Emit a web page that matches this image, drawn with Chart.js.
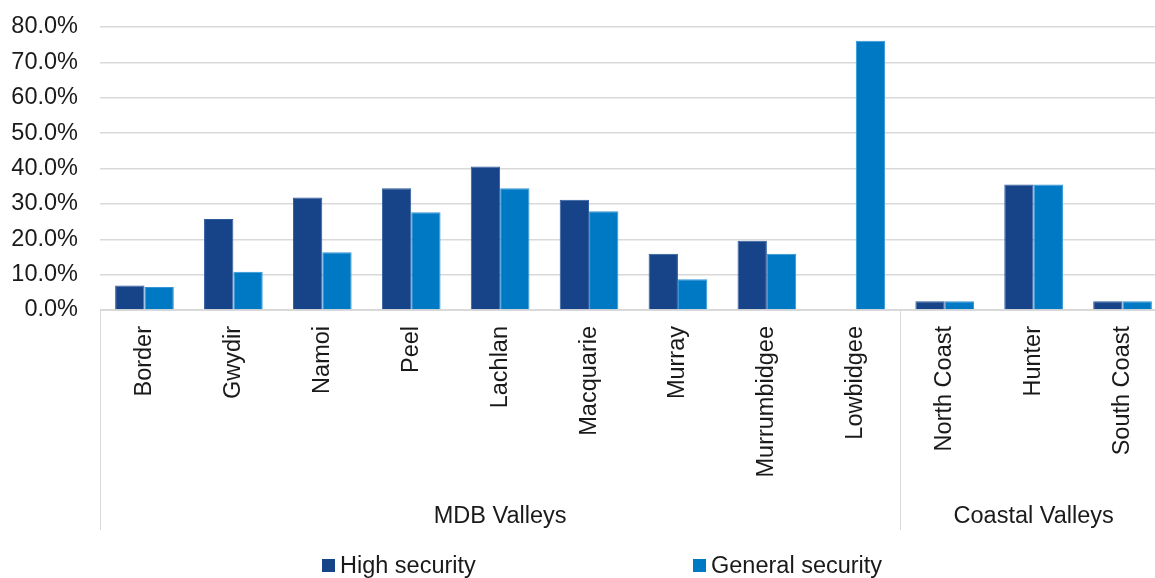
<!DOCTYPE html>
<html>
<head>
<meta charset="utf-8">
<script src="https://cdn.jsdelivr.net/npm/chart.js@4.4.1/dist/chart.umd.min.js"></script>
<style>
  html, body { margin: 0; padding: 0; background: #fff; overflow: hidden; }
  #wrap { position: relative; width: 1155px; height: 578px; overflow: hidden; }
  #box { position: absolute; left: 0; top: 0; width: 1167px; height: 578px; }
  #legend { position: absolute; top: 552px; left: 0; width: 1155px; height: 26px;
            font-family: "Liberation Sans", Arial, sans-serif; font-size: 23.5px; color: #1a1a1a; }
  .item { position: absolute; line-height: 26px; white-space: nowrap; }
  .swatch { display: inline-block; width: 13px; height: 13px; margin-right: 5px; vertical-align: 1px; }
</style>
</head>
<body>
<div id="wrap">
  <div id="box"><canvas id="grafico"></canvas></div>
  <div id="legend"></div>
</div>
<script>
// Categorias e valores (percentagem)
const valleys = ['Border', 'Gwydir', 'Namoi', 'Peel', 'Lachlan', 'Macquarie', 'Murray',
  'Murrumbidgee', 'Lowbidgee', 'North Coast', 'Hunter', 'South Coast'];
const highSecurity = [6.9, 25.7, 31.8, 34.4, 40.6, 31.2, 15.9, 19.6, 0, 2.5, 35.5, 2.5];
const generalSecurity = [6.5, 10.8, 16.3, 27.6, 34.4, 27.9, 8.7, 15.9, 76.1, 2.5, 35.5, 2.5];
const yTicks = [0, 10, 20, 30, 40, 50, 60, 70, 80];

// Grupos de vales (índice inicial e final)
const groupNames = ['MDB Valleys', 'Coastal Valleys'];
const groupStart = [0, 9];
const groupEnd = [8, 11];

const corAlta = '#174489';
const corGeral = '#0079c5';
const fonte = '"Liberation Sans", Arial, sans-serif';

Chart.defaults.font.family = fonte;
Chart.defaults.font.size = 23.5;
Chart.defaults.color = '#1a1a1a';

// Plugin que desenha os rótulos dos grupos e as linhas divisórias
const gruposPlugin = {
  id: 'grupos',
  afterDraw(chart) {
    const ctx = chart.ctx;
    const x = chart.scales.x;
    const half = x.width / valleys.length / 2;
    const top = chart.chartArea.bottom;
    const bottom = top + 220;
    ctx.save();
    ctx.strokeStyle = '#d9d9d9';
    ctx.lineWidth = 1;
    ctx.fillStyle = '#1a1a1a';
    ctx.font = '23.5px ' + fonte;
    ctx.textAlign = 'center';
    ctx.textBaseline = 'alphabetic';
    groupNames.forEach((nome, i) => {
      const left = x.getPixelForTick(groupStart[i]) - half;
      const right = x.getPixelForTick(groupEnd[i]) + half;
      const lx = Math.round(left) + 0.5;
      ctx.beginPath();
      ctx.moveTo(lx, top);
      ctx.lineTo(lx, bottom);
      ctx.stroke();
      ctx.fillText(nome, (left + right) / 2, top + 213);
    });
    ctx.restore();
  }
};

const datasets = [
  { label: 'High security', data: highSecurity, backgroundColor: corAlta, borderColor: '#2d5a9e', borderWidth: 1 },
  { label: 'General security', data: generalSecurity, backgroundColor: corGeral, borderColor: '#2f95d6', borderWidth: 1 }
];

new Chart(document.getElementById('grafico'), {
  type: 'bar',
  data: { labels: valleys, datasets: datasets },
  options: {
    responsive: true,
    maintainAspectRatio: false,
    animation: false,
    layout: { padding: { top: 27, right: 0, bottom: 48, left: 0 } },
    datasets: { bar: { categoryPercentage: 0.66, barPercentage: 1.0 } },
    plugins: { legend: { display: false }, tooltip: { enabled: false } },
    scales: {
      x: {
        grid: { display: false },
        border: { color: '#d9d9d9', width: 1 },
        ticks: { minRotation: 90, maxRotation: 90, padding: 8, autoSkip: false, color: '#1a1a1a' },
        afterFit(scale) { scale.height = 220; }
      },
      y: {
        min: 0,
        max: 80,
        afterBuildTicks(scale) { scale.ticks = yTicks.map(v => ({ value: v })); },
        grid: { color: '#d9d9d9', lineWidth: 1.5, drawTicks: false },
        border: { display: false },
        ticks: { padding: 22, color: '#1a1a1a', callback: v => v.toFixed(1) + '%' },
        afterFit(scale) {
          scale.width = 100;
          scale.paddingTop = 0;
          scale.paddingBottom = 0;
        }
      }
    }
  },
  plugins: [gruposPlugin]
});

// Legenda em HTML
const legenda = document.getElementById('legend');
const posLegenda = [322, 693];
datasets.forEach((ds, i) => {
  const item = document.createElement('div');
  item.className = 'item';
  item.style.left = posLegenda[i] + 'px';
  item.innerHTML = '<span class="swatch" style="background:' + ds.backgroundColor + '"></span>' + ds.label;
  legenda.appendChild(item);
});
</script>
</body>
</html>
